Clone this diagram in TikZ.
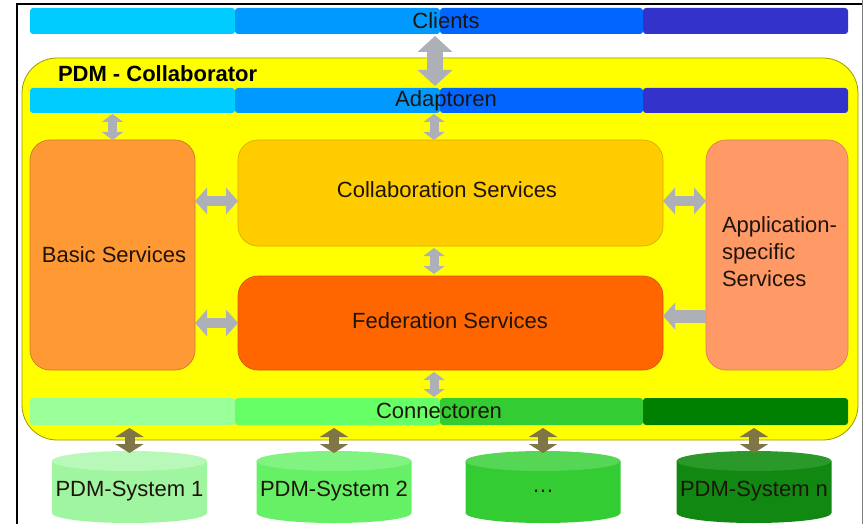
\documentclass[tikz,border=0pt]{standalone}
\usepackage{fontspec}
\setmainfont{Liberation Sans}
\usetikzlibrary{arrows.meta}
\definecolor{bA}{HTML}{00CCFF}
\definecolor{bB}{HTML}{0099FF}
\definecolor{bC}{HTML}{0066FF}
\definecolor{bD}{HTML}{3333CC}
\definecolor{gA}{HTML}{99FF99}
\definecolor{gB}{HTML}{66FF66}
\definecolor{gC}{HTML}{33CC33}
\definecolor{gD}{HTML}{008000}
\definecolor{yel}{HTML}{FFFF00}
\definecolor{yelb}{HTML}{9A9A00}
\definecolor{basicc}{HTML}{FF9933}
\definecolor{collabc}{HTML}{FFCC00}
\definecolor{fedc}{HTML}{FF6600}
\definecolor{appc}{HTML}{FF9966}
\definecolor{agray}{HTML}{AEB0B8}
\definecolor{aolive}{HTML}{7F7546}
\definecolor{cyl1}{HTML}{A0F5A0}
\definecolor{cyl1t}{HTML}{B8F8B8}
\definecolor{cyl2}{HTML}{66F066}
\definecolor{cyl2t}{HTML}{80F380}
\definecolor{cyl3}{HTML}{33CC33}
\definecolor{cyl3t}{HTML}{55D755}
\definecolor{cyl4}{HTML}{118811}
\definecolor{cyl4t}{HTML}{2A992A}
\definecolor{txt}{HTML}{1E140C}
\begin{document}
\begin{tikzpicture}[x=1pt,y=-1pt,
  font=\fontsize{22}{27}\selectfont,
  every node/.style={text=txt, inner sep=0pt, outer sep=0pt},
  seg/.style={rounded corners=3pt, anchor=north west, minimum width=#1},
  svc/.style={rounded corners=20pt, anchor=north west, line width=0.7pt},
  cylbox/.style={minimum width=155pt, minimum height=72pt},
  bigarr/.style={draw=agray, line width=16pt, {Triangle[length=16pt,width=34pt]}-{Triangle[length=16pt,width=34pt]}},
  varr/.style={draw=agray, line width=9pt, {Triangle[length=8pt,width=21pt]}-{Triangle[length=8pt,width=21pt]}},
  harr/.style={draw=agray, line width=10pt, {Triangle[length=12pt,width=26pt]}-{Triangle[length=12pt,width=26pt]}},
  sarr/.style={draw=agray, line width=13pt, -{Triangle[length=12pt,width=26pt]}},
  oarr/.style={draw=aolive, line width=10pt, {Triangle[length=9pt,width=28pt]}-{Triangle[length=9pt,width=28pt]}}
]
\useasboundingbox (0,0) rectangle (867,524);
\fill[white] (0,0) rectangle (867,524);
% frame
\draw[black, line width=1.2pt] (17,524) -- (17,4) -- (862,4);
\draw[gray, line width=0.8pt] (862,0) -- (862,524);

% Clients bar
\node[seg=205pt, fill=bA, minimum height=26pt] (clA) at (30,8) {};
\node[seg=205pt, fill=bB, minimum height=26pt] (clB) at (235,8) {};
\node[seg=203pt, fill=bC, minimum height=26pt] (clC) at (440,8) {};
\node[seg=205pt, fill=bD, minimum height=26pt] (clD) at (643,8) {};
\node (clientsL) at (446,21) {Clients};

% PDM collaborator box
\node[draw=yelb, fill=yel, line width=0.8pt, rounded corners=35pt, anchor=north west,
      minimum width=836pt, minimum height=382pt] (pdm) at (22,58) {};
\node[anchor=west, font=\fontsize{22}{27}\selectfont\bfseries, text=black] (pdmL) at (58,74) {PDM - Collaborator};

% Adaptoren bar
\node[seg=205pt, fill=bA, minimum height=25pt] (adA) at (30,88) {};
\node[seg=205pt, fill=bB, minimum height=25pt] (adB) at (235,88) {};
\node[seg=203pt, fill=bC, minimum height=25pt] (adC) at (440,88) {};
\node[seg=205pt, fill=bD, minimum height=25pt] (adD) at (643,88) {};
\node (adL) at (446,101) {Adaptoren};

% services
\node[svc, fill=basicc, draw=basicc!80!black, minimum width=165pt, minimum height=230pt] (basic) at (30,140) {};
\node (basicL) at (114,255) {Basic Services};
\node[svc, fill=collabc, draw=collabc!85!black, minimum width=425pt, minimum height=106pt] (collab) at (238,140) {};
\node (collabL) at (447,190) {Collaboration Services};
\node[svc, fill=fedc, draw=fedc!85!black, minimum width=425pt, minimum height=94pt] (fed) at (238,276) {};
\node (fedL) at (450,321) {Federation Services};
\node[svc, fill=appc, draw=appc!85!black, minimum width=142pt, minimum height=230pt] (app) at (706,140) {};
\node[anchor=west, align=left] (appL) at (722,252) {Application-\\specific\\Services};

% Connectoren bar
\node[seg=205pt, fill=gA, minimum height=27pt] (coA) at (30,398) {};
\node[seg=205pt, fill=gB, minimum height=27pt] (coB) at (235,398) {};
\node[seg=203pt, fill=gC, minimum height=27pt] (coC) at (440,398) {};
\node[seg=205pt, fill=gD, minimum height=27pt] (coD) at (643,398) {};
\node (coL) at (439,411) {Connectoren};

% cylinders
\foreach \n/\cx/\bodyc/\topc/\lab in {s1/129.5/cyl1/cyl1t/PDM-System 1, s2/334/cyl2/cyl2t/PDM-System 2, s3/543/cyl3/cyl3t/\dots, sn/754/cyl4/cyl4t/PDM-System n}{
  \node[cylbox] (\n) at (\cx,487) {};
  \fill[\bodyc] ([yshift=-10pt]\n.north west) -- ([yshift=10pt]\n.south west)
     arc[start angle=180,end angle=360,x radius=77.5pt,y radius=10pt]
     -- ([yshift=-10pt]\n.north east) -- cycle;
  \fill[\topc] ([yshift=-10pt]\n.north) ellipse[x radius=77.5pt,y radius=10pt];
  \node (\n L) at ([yshift=-4pt]\n.center) {\lab};
}

% gray arrows
\draw[bigarr, shorten <=2pt, shorten >=2pt] ([xshift=-5pt]clB.south east) -- ([xshift=-5pt]adB.north east);
\draw[varr, shorten <=1pt] (adA.south -| basic.north) -- (basic.north);
\draw[varr, shorten <=1pt] ([xshift=-6pt]adB.south east) -- ([xshift=-6pt]adB.south east |- collab.north);
\draw[varr, shorten <=2pt, shorten >=2pt] ([xshift=-6pt]adB.south east |- collab.south) -- ([xshift=-6pt]adB.south east |- fed.north);
\draw[varr, shorten <=2pt, shorten >=1pt] ([xshift=-6pt]adB.south east |- fed.south) -- ([xshift=-6pt]adB.south east |- coB.north);
\draw[harr] ([yshift=-8pt]collab.west -| basic.east) -- ([yshift=-8pt]collab.west);
\draw[harr] (fed.west -| basic.east) -- (fed.west);
\draw[harr] ([yshift=-8pt]collab.east) -- ([yshift=-8pt]collab.east -| app.west);
\draw[sarr] ([yshift=7pt]fed.east -| app.west) -- ([yshift=7pt]fed.east);

% olive arrows
\draw[oarr, shorten <=3pt, shorten >=-2pt] (s1.north |- coA.south) -- (s1.north);
\draw[oarr, shorten <=3pt, shorten >=-2pt] (s2.north |- coB.south) -- (s2.north);
\draw[oarr, shorten <=3pt, shorten >=-2pt] (s3.north |- coC.south) -- (s3.north);
\draw[oarr, shorten <=3pt, shorten >=-2pt] (sn.north |- coD.south) -- (sn.north);
\end{tikzpicture}
\end{document}
